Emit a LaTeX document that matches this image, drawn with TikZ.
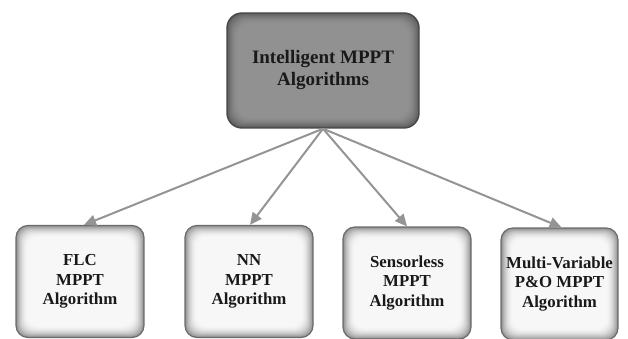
\documentclass[tikz,border=0pt]{standalone}
\usepackage{fontspec}
\setmainfont{Liberation Serif}
\usetikzlibrary{arrows.meta}

% inner-glow fill: concentric rounded rectangles from an outer grey to an inner grey
\tikzset{
  glow/.style n args={3}{
    path picture={
      \foreach \i in {0,...,16}{
        \pgfmathsetmacro\k{#2+(#1-#2)*(1-\i/16)^2}
        \fill[black!\k, rounded corners=#3]
          ([shift={(\i*0.75pt,\i*0.75pt)}]path picture bounding box.south west)
          rectangle ([shift={(-\i*0.75pt,-\i*0.75pt)}]path picture bounding box.north east);
      }
    }
  },
  rootbox/.style={draw=black!72, line width=1.4pt, rounded corners=15pt,
    glow={64}{43}{14pt}, inner sep=0pt, align=center,
    minimum width=192pt, minimum height=115pt,
    font=\fontsize{19}{22}\selectfont\bfseries, text=black!90},
  leafbox/.style={draw=black!58, line width=1.2pt, rounded corners=12pt,
    glow={44}{3}{11pt}, inner sep=0pt, align=center,
    minimum height=112pt,
    font=\fontsize{16.8}{19.5}\selectfont\bfseries, text=black!90},
  link/.style={draw=black!42, line width=2pt,
    -{Triangle[length=12pt,width=11pt]}}
}

\begin{document}
\begin{tikzpicture}[x=1pt,y=-1pt]
  \useasboundingbox (0,0) rectangle (628,339);
  \clip (0,0) rectangle (628,339);

  \node[rootbox] (root) at (323,70.5) {Intelligent MPPT\\Algorithms};

  \node[leafbox, minimum width=128pt] (flc)   at (80,281.5)  {FLC\\MPPT\\Algorithm};
  \node[leafbox, minimum width=128pt] (nn)    at (249,281.5) {NN\\MPPT\\Algorithm};
  \node[leafbox, minimum width=128pt] (sens)  at (407,283)   {Sensorless\\MPPT\\Algorithm};
  \node[leafbox, minimum width=117pt] (multi) at (559.5,284) {Multi-Variable\\P\&O MPPT\\Algorithm};

  \coordinate (hub) at (root.south);
  \draw[link] (hub) -- ([xshift=4pt]flc.north);
  \draw[link] (hub) -- ([xshift=1pt]nn.north);
  \draw[link] (hub) -- ([xshift=0pt]sens.north);
  \draw[link] (hub) -- ([xshift=2pt]multi.north);
\end{tikzpicture}
\end{document}
